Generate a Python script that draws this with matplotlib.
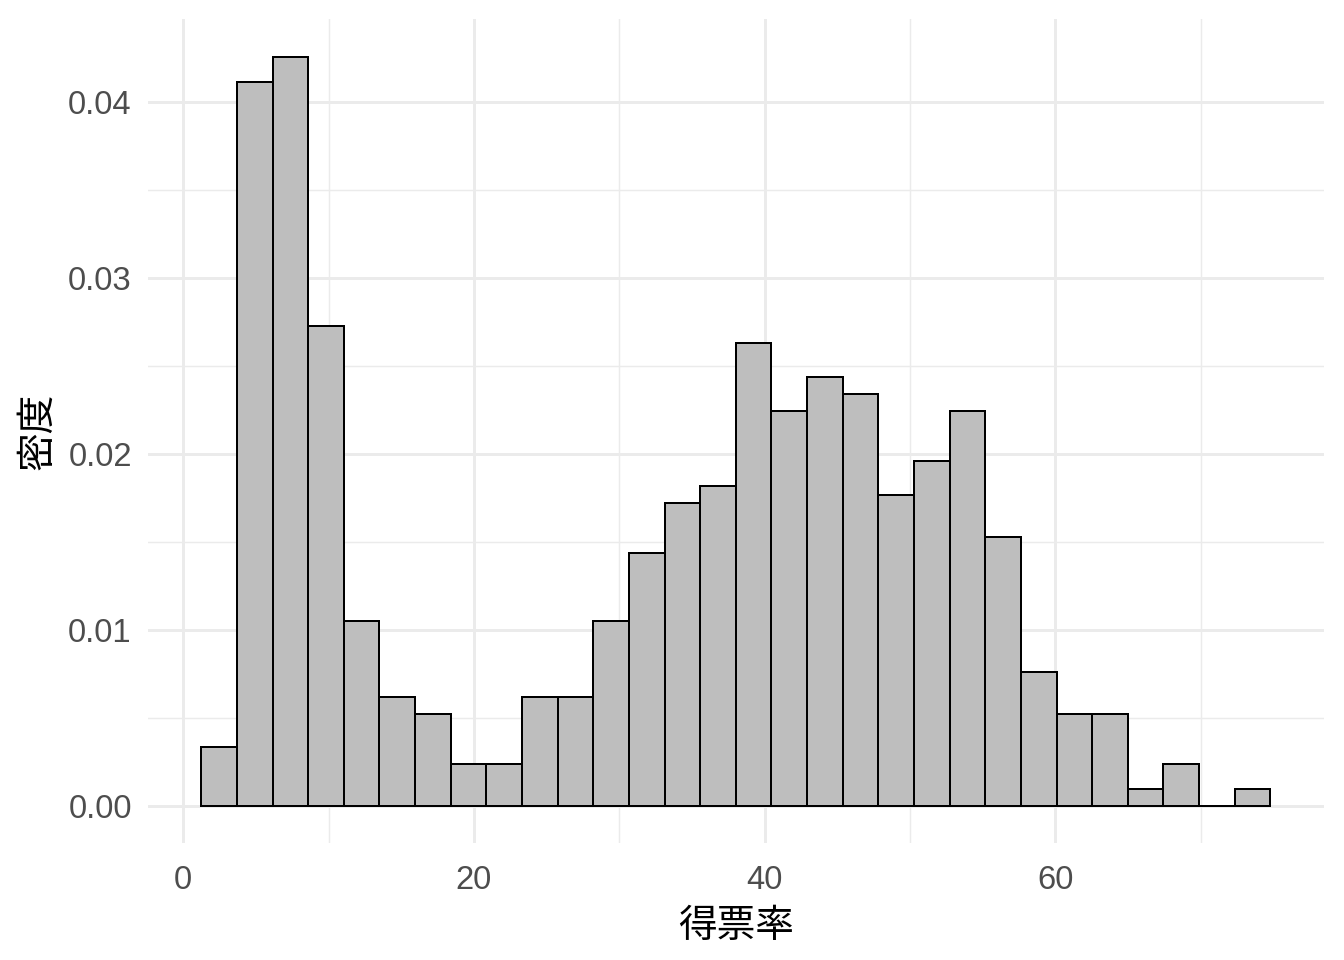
import numpy as np
import matplotlib
matplotlib.use("Agg")
import matplotlib.pyplot as plt

# 30 bins (ggplot default), density values
bin_start = 1.24
bin_width = 2.452
density = [0.00335, 0.04114, 0.04256, 0.02727, 0.01051, 0.00619, 0.00523,
           0.00239, 0.00239, 0.00619, 0.00619, 0.01051, 0.01438, 0.01722,
           0.01818, 0.02631, 0.02244, 0.02438, 0.02341, 0.01767, 0.01960,
           0.02244, 0.01528, 0.00761, 0.00523, 0.00523, 0.00097, 0.00239,
           0.0, 0.00097]
x_ticks = [0, 20, 40, 60]
y_ticks = [0.00, 0.01, 0.02, 0.03, 0.04]
x_label = "得票率"
y_label = "密度"

cjk = ["Noto Sans CJK JP", "DejaVu Sans"]
num_font = ["Liberation Sans", "DejaVu Sans"]

fig = plt.figure(figsize=(7, 5), dpi=192)
ax = fig.add_axes([0.110, 0.1214, 0.875, 0.8583])

left = bin_start + bin_width * np.arange(len(density))
ax.bar(left, density, width=bin_width, align="edge",
       color="#BEBEBE", edgecolor="black", linewidth=0.75, zorder=3)

xmin, xmax = left[0], left[-1] + bin_width
xpad = 0.05 * (xmax - xmin)
ymax = max(density)
ax.set_xlim(xmin - xpad, xmax + xpad)
ax.set_ylim(-0.05 * ymax, ymax * 1.05)

ax.set_xticks(x_ticks)
ax.set_xticks([10, 30, 50, 70], minor=True)
ax.set_yticks(y_ticks)
ax.set_yticks([0.005, 0.015, 0.025, 0.035], minor=True)
ax.set_yticklabels([f"{v:.2f}" for v in y_ticks])

ax.grid(True, which="major", color="#EBEBEB", linewidth=1.1, zorder=0)
ax.grid(True, which="minor", color="#EBEBEB", linewidth=0.55, zorder=0)
ax.set_axisbelow(True)
for s in ax.spines.values():
    s.set_visible(False)
ax.tick_params(which="both", length=0)
ax.tick_params(axis="x", pad=8)
ax.tick_params(axis="y", pad=6)
for lab in ax.get_xticklabels() + ax.get_yticklabels():
    lab.set_fontfamily(num_font)
    lab.set_fontsize(12.3)
    lab.set_color("#4D4D4D")

ax.set_xlabel(x_label, family=cjk, fontsize=14.5, color="black", labelpad=4)
ax.set_ylabel(y_label, family=cjk, fontsize=14.5, color="black", labelpad=4)

fig.savefig("out.png", dpi=192, facecolor="white")
